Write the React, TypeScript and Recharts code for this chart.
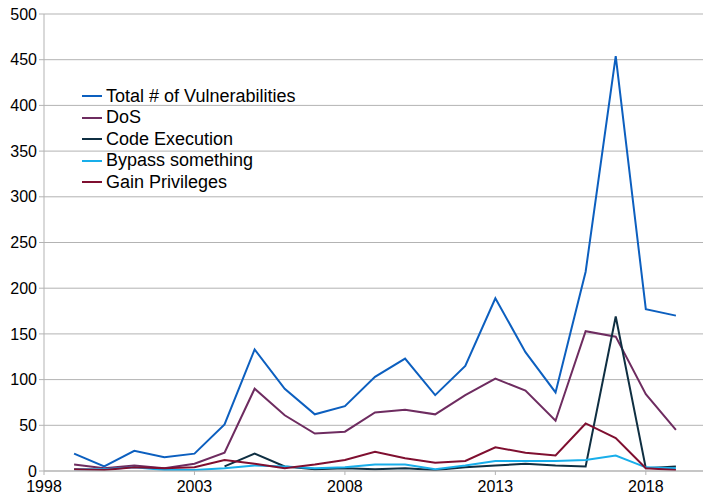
import { LineChart, Line, XAxis, YAxis, CartesianGrid, Legend } from 'recharts'

const years = [1999, 2000, 2001, 2002, 2003, 2004, 2005, 2006, 2007, 2008, 2009, 2010, 2011, 2012, 2013, 2014, 2015, 2016, 2017, 2018, 2019]
const total = [19, 5, 22, 15, 19, 51, 133, 90, 62, 71, 103, 123, 83, 115, 189, 130, 86, 218, 454, 177, 170]
const dos = [7, 3, 6, 3, 8, 20, 90, 61, 41, 43, 64, 67, 62, 83, 101, 88, 55, 153, 147, 84, 45]
const codeExec = [null, null, null, null, null, 5, 19, 5, 2, 3, 2, 3, 1, 4, 6, 8, 6, 5, 169, 3, 5]
const bypass = [2, 2, 4, 1, 1, 3, 6, 5, 3, 4, 7, 7, 2, 6, 11, 11, 11, 12, 17, 4, 3]
const gainPriv = [2, 1, 4, 3, 4, 12, 8, 3, 7, 12, 21, 14, 9, 11, 26, 20, 17, 52, 36, 3, 1]

const xTicks = [1998, 2003, 2008, 2013, 2018]
const yTicks = [0, 50, 100, 150, 200, 250, 300, 350, 400, 450, 500]

const SERIES = [
  { key: 'total', name: 'Total # of Vulnerabilities', color: '#0c5fbf' },
  { key: 'dos', name: 'DoS', color: '#6e2c60' },
  { key: 'codeExec', name: 'Code Execution', color: '#0f2f42' },
  { key: 'bypass', name: 'Bypass something', color: '#18aeea' },
  { key: 'gainPriv', name: 'Gain Privileges', color: '#7f0f30' },
]

const data = years.map((year, i) => ({
  year,
  total: total[i],
  dos: dos[i],
  codeExec: codeExec[i],
  bypass: bypass[i],
  gainPriv: gainPriv[i],
}))

function LegendBox() {
  return (
    <div>
      {SERIES.map((s) => (
        <div key={s.key} style={{ display: 'flex', alignItems: 'center', height: 21.5 }}>
          <span style={{ display: 'inline-block', width: 20, height: 2, background: s.color, marginRight: 4 }} />
          <span style={{ fontSize: 18, color: '#000', whiteSpace: 'nowrap' }}>{s.name}</span>
        </div>
      ))}
    </div>
  )
}

export default function App() {
  return (
    <div
      style={{
        position: 'absolute',
        left: 0,
        top: 0,
        width: 703,
        height: 495,
        overflow: 'hidden',
        background: '#fff',
        fontFamily: '"Liberation Sans", Arial, sans-serif',
      }}
    >
      <LineChart width={706} height={495} data={data} margin={{ top: 14, right: 0, left: 0, bottom: 0 }}>
        <CartesianGrid vertical={false} stroke="#b3b3b3" />
        <XAxis
          dataKey="year"
          type="number"
          domain={[1998, 2020]}
          ticks={xTicks}
          height={24}
          tickSize={4}
          tickMargin={6}
          stroke="#b3b3b3"
          tick={{ fill: '#000', fontSize: 16 }}
          interval={0}
        />
        <YAxis
          domain={[0, 500]}
          ticks={yTicks}
          width={44}
          tickSize={5}
          tickMargin={2}
          stroke="#b3b3b3"
          tick={{ fill: '#000', fontSize: 16 }}
          interval={0}
        />
        <Legend
          layout="vertical"
          align="center"
          verticalAlign="middle"
          content={() => <LegendBox />}
          wrapperStyle={{ left: 82, top: 85.5, width: 280 }}
        />
        {SERIES.map((s) => (
          <Line
            key={s.key}
            dataKey={s.key}
            name={s.name}
            stroke={s.color}
            strokeWidth={2}
            dot={false}
            type="linear"
            isAnimationActive={false}
          />
        ))}
      </LineChart>
    </div>
  )
}
